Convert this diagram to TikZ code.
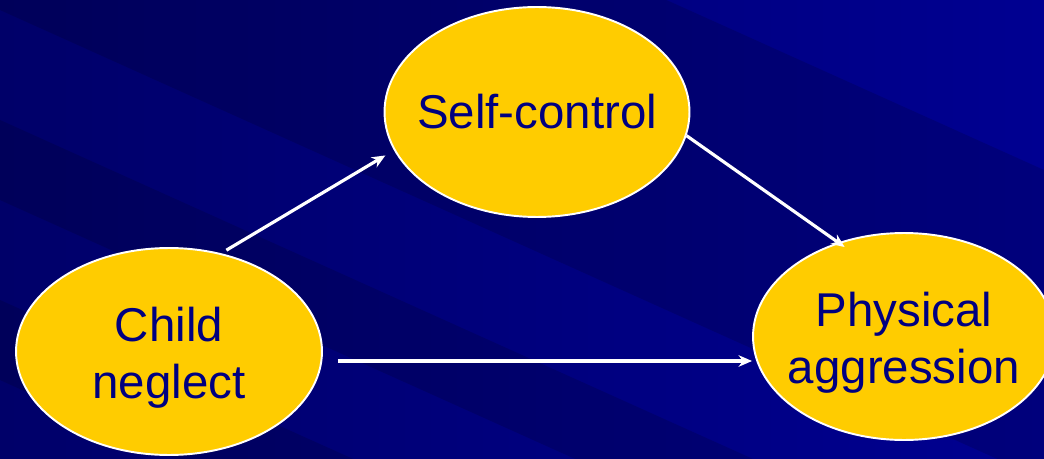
\documentclass[tikz,border=0pt]{standalone}
\usepackage{fontspec}
\setmainfont{Liberation Sans}
\usetikzlibrary{arrows.meta,positioning,calc,shapes.geometric}
\definecolor{slidedark}{RGB}{0,0,105}
\definecolor{slidelight}{RGB}{0,0,145}
\definecolor{boxyellow}{RGB}{255,204,0}
\definecolor{boxtext}{RGB}{0,0,128}

\begin{document}
\begin{tikzpicture}[x=0.02cm,y=-0.02cm,
  var/.style={ellipse,draw=white,line width=1.1pt,fill=boxyellow,inner sep=0pt},
  lbl/.style={text=boxtext,align=center,font=\fontsize{27}{32.4}\selectfont},
  link/.style={-{Stealth[length=0.27cm,width=0.23cm]},white,line width=1.8pt}]
\useasboundingbox (0,0) rectangle (1044,459);
\fill[left color=slidedark,right color=slidelight] (0,0) rectangle (1044,459);
\begin{scope}
\clip (0,0) rectangle (1044,459);
\foreach \a/\b in {-300/10,120/200,300/380}
  \fill[black,opacity=0.14] (0,\a) -- (1044,{470+\a}) -- (1044,{470+\b}) -- (0,\b) -- cycle;
\end{scope}
\node[var,minimum width=6.1cm,minimum height=4.2cm,label={[lbl]center:Self-control}] (SC) at (537,112) {};
\node[var,minimum width=6.12cm,minimum height=4.14cm,label={[lbl,yshift=-0.13cm]center:{Child\\neglect}}] (CN) at (169,351.5) {};
\node[var,minimum width=6.04cm,minimum height=4.14cm,label={[lbl,yshift=-0.13cm]center:{Physical\\aggression}}] (PA) at (904,336.5) {};
\coordinate (CNout) at ([yshift=-0.19cm]CN.east);
\draw[link,shorten <=0.12cm,shorten >=0.2cm] (CN.62) -- (SC.195);
\draw[link,shorten >=-0.16cm] (SC.-9) -- (PA.125);
\draw[link,shorten <=0.3cm] (CNout) -- (CNout -| PA.west);
\end{tikzpicture}
\end{document}
